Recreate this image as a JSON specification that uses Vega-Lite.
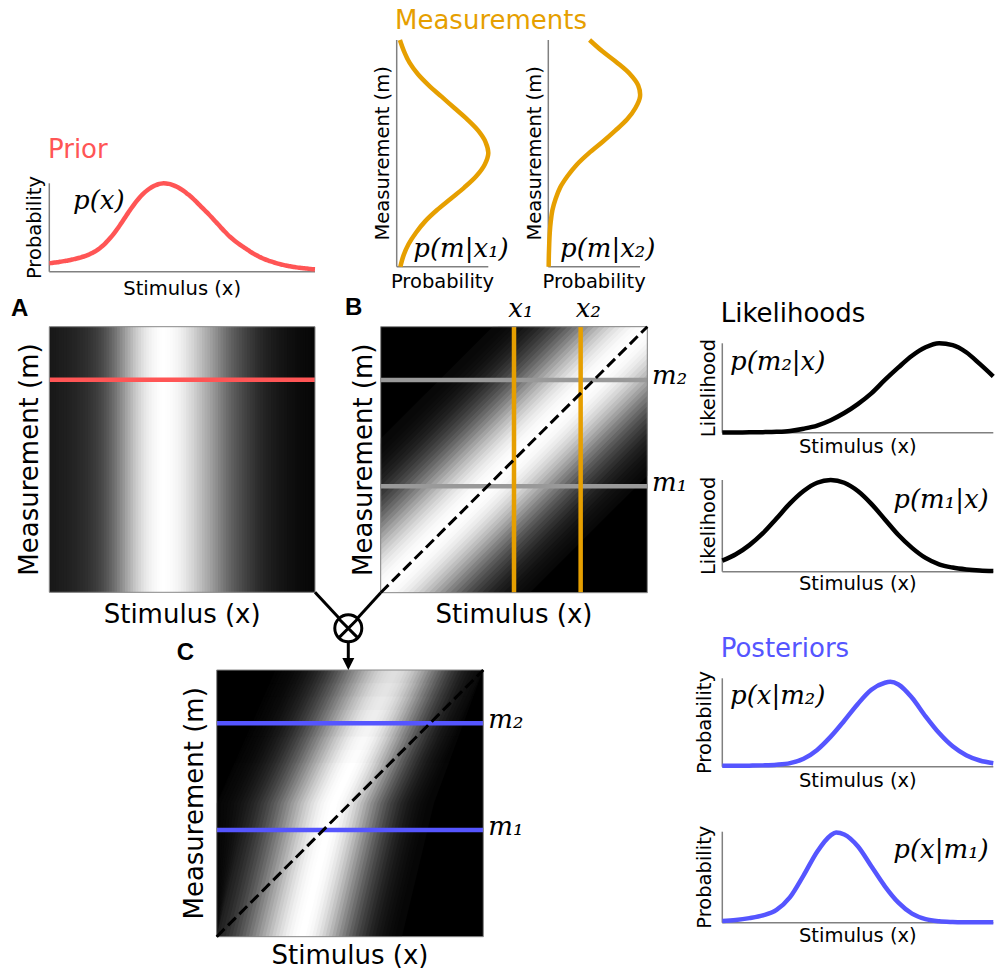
{
"$schema":"https://vega.github.io/schema/vega-lite/v6.json",
"width":996,"height":971,"autosize":{"type":"none"},"padding":0,"background":"white",
"config":{"view":{"stroke":null}},
"datasets":{
"prior":[{"x":0,"xa":0,"xb":0.015,"y":0.095},{"x":0.01,"xa":0.005,"xb":0.025,"y":0.099},{"x":0.02,"xa":0.015,"xb":0.035,"y":0.103},{"x":0.03,"xa":0.025,"xb":0.045,"y":0.107},{"x":0.04,"xa":0.035,"xb":0.055,"y":0.112},{"x":0.05,"xa":0.045,"xb":0.065,"y":0.117},{"x":0.06,"xa":0.055,"xb":0.075,"y":0.122},{"x":0.07,"xa":0.065,"xb":0.085,"y":0.127},{"x":0.08,"xa":0.075,"xb":0.095,"y":0.133},{"x":0.09,"xa":0.085,"xb":0.105,"y":0.14},{"x":0.1,"xa":0.095,"xb":0.115,"y":0.147},{"x":0.11,"xa":0.105,"xb":0.125,"y":0.155},{"x":0.12,"xa":0.115,"xb":0.135,"y":0.163},{"x":0.13,"xa":0.125,"xb":0.145,"y":0.172},{"x":0.14,"xa":0.135,"xb":0.155,"y":0.183},{"x":0.15,"xa":0.145,"xb":0.165,"y":0.195},{"x":0.16,"xa":0.155,"xb":0.175,"y":0.21},{"x":0.17,"xa":0.165,"xb":0.185,"y":0.226},{"x":0.18,"xa":0.175,"xb":0.195,"y":0.245},{"x":0.19,"xa":0.185,"xb":0.205,"y":0.266},{"x":0.2,"xa":0.195,"xb":0.215,"y":0.29},{"x":0.21,"xa":0.205,"xb":0.225,"y":0.318},{"x":0.22,"xa":0.215,"xb":0.235,"y":0.35},{"x":0.23,"xa":0.225,"xb":0.245,"y":0.384},{"x":0.24,"xa":0.235,"xb":0.255,"y":0.42},{"x":0.25,"xa":0.245,"xb":0.265,"y":0.459},{"x":0.26,"xa":0.255,"xb":0.275,"y":0.5},{"x":0.27,"xa":0.265,"xb":0.285,"y":0.545},{"x":0.28,"xa":0.275,"xb":0.295,"y":0.59},{"x":0.29,"xa":0.285,"xb":0.305,"y":0.636},{"x":0.3,"xa":0.295,"xb":0.315,"y":0.68},{"x":0.31,"xa":0.305,"xb":0.325,"y":0.724},{"x":0.32,"xa":0.315,"xb":0.335,"y":0.765},{"x":0.33,"xa":0.325,"xb":0.345,"y":0.804},{"x":0.34,"xa":0.335,"xb":0.355,"y":0.84},{"x":0.35,"xa":0.345,"xb":0.365,"y":0.872},{"x":0.36,"xa":0.355,"xb":0.375,"y":0.9},{"x":0.37,"xa":0.365,"xb":0.385,"y":0.924},{"x":0.38,"xa":0.375,"xb":0.395,"y":0.945},{"x":0.39,"xa":0.385,"xb":0.405,"y":0.963},{"x":0.4,"xa":0.395,"xb":0.415,"y":0.978},{"x":0.41,"xa":0.405,"xb":0.425,"y":0.989},{"x":0.42,"xa":0.415,"xb":0.435,"y":0.996},{"x":0.43,"xa":0.425,"xb":0.445,"y":1},{"x":0.44,"xa":0.435,"xb":0.455,"y":0.998},{"x":0.45,"xa":0.445,"xb":0.465,"y":0.993},{"x":0.46,"xa":0.455,"xb":0.475,"y":0.985},{"x":0.47,"xa":0.465,"xb":0.485,"y":0.974},{"x":0.48,"xa":0.475,"xb":0.495,"y":0.96},{"x":0.49,"xa":0.485,"xb":0.505,"y":0.944},{"x":0.5,"xa":0.495,"xb":0.515,"y":0.925},{"x":0.51,"xa":0.505,"xb":0.525,"y":0.904},{"x":0.52,"xa":0.515,"xb":0.535,"y":0.88},{"x":0.53,"xa":0.525,"xb":0.545,"y":0.856},{"x":0.54,"xa":0.535,"xb":0.555,"y":0.83},{"x":0.55,"xa":0.545,"xb":0.565,"y":0.801},{"x":0.56,"xa":0.555,"xb":0.575,"y":0.77},{"x":0.57,"xa":0.565,"xb":0.585,"y":0.74},{"x":0.58,"xa":0.575,"xb":0.595,"y":0.71},{"x":0.59,"xa":0.585,"xb":0.605,"y":0.68},{"x":0.6,"xa":0.595,"xb":0.615,"y":0.65},{"x":0.61,"xa":0.605,"xb":0.625,"y":0.618},{"x":0.62,"xa":0.615,"xb":0.635,"y":0.585},{"x":0.63,"xa":0.625,"xb":0.645,"y":0.552},{"x":0.64,"xa":0.635,"xb":0.655,"y":0.52},{"x":0.65,"xa":0.645,"xb":0.665,"y":0.487},{"x":0.66,"xa":0.655,"xb":0.675,"y":0.455},{"x":0.67,"xa":0.665,"xb":0.685,"y":0.424},{"x":0.68,"xa":0.675,"xb":0.695,"y":0.395},{"x":0.69,"xa":0.685,"xb":0.705,"y":0.369},{"x":0.7,"xa":0.695,"xb":0.715,"y":0.345},{"x":0.71,"xa":0.705,"xb":0.725,"y":0.322},{"x":0.72,"xa":0.715,"xb":0.735,"y":0.3},{"x":0.73,"xa":0.725,"xb":0.745,"y":0.28},{"x":0.74,"xa":0.735,"xb":0.755,"y":0.26},{"x":0.75,"xa":0.745,"xb":0.765,"y":0.24},{"x":0.76,"xa":0.755,"xb":0.775,"y":0.22},{"x":0.77,"xa":0.765,"xb":0.785,"y":0.202},{"x":0.78,"xa":0.775,"xb":0.795,"y":0.185},{"x":0.79,"xa":0.785,"xb":0.805,"y":0.17},{"x":0.8,"xa":0.795,"xb":0.815,"y":0.155},{"x":0.81,"xa":0.805,"xb":0.825,"y":0.142},{"x":0.82,"xa":0.815,"xb":0.835,"y":0.13},{"x":0.83,"xa":0.825,"xb":0.845,"y":0.12},{"x":0.84,"xa":0.835,"xb":0.855,"y":0.11},{"x":0.85,"xa":0.845,"xb":0.865,"y":0.101},{"x":0.86,"xa":0.855,"xb":0.875,"y":0.092},{"x":0.87,"xa":0.865,"xb":0.885,"y":0.084},{"x":0.88,"xa":0.875,"xb":0.895,"y":0.077},{"x":0.89,"xa":0.885,"xb":0.905,"y":0.07},{"x":0.9,"xa":0.895,"xb":0.915,"y":0.064},{"x":0.91,"xa":0.905,"xb":0.925,"y":0.059},{"x":0.92,"xa":0.915,"xb":0.935,"y":0.054},{"x":0.93,"xa":0.925,"xb":0.945,"y":0.049},{"x":0.94,"xa":0.935,"xb":0.955,"y":0.045},{"x":0.95,"xa":0.945,"xb":0.965,"y":0.041},{"x":0.96,"xa":0.955,"xb":0.975,"y":0.038},{"x":0.97,"xa":0.965,"xb":0.985,"y":0.035},{"x":0.98,"xa":0.975,"xb":0.995,"y":0.032},{"x":0.99,"xa":0.985,"xb":1,"y":0.029},{"x":1,"xa":0.995,"xb":1,"y":0.027}],
"m1":[{"y":0,"x":0.04},{"y":0.05,"x":0.075},{"y":0.1,"x":0.13},{"y":0.15,"x":0.21},{"y":0.2,"x":0.31},{"y":0.25,"x":0.44},{"y":0.3,"x":0.59},{"y":0.35,"x":0.74},{"y":0.4,"x":0.87},{"y":0.45,"x":0.96},{"y":0.5,"x":1},{"y":0.55,"x":0.97},{"y":0.6,"x":0.89},{"y":0.65,"x":0.77},{"y":0.7,"x":0.63},{"y":0.75,"x":0.49},{"y":0.8,"x":0.35},{"y":0.85,"x":0.23},{"y":0.9,"x":0.14},{"y":0.95,"x":0.08},{"y":1,"x":0.035}],
"m2":[{"y":0,"x":0.004},{"y":0.05,"x":0.006},{"y":0.1,"x":0.01},{"y":0.15,"x":0.016},{"y":0.2,"x":0.027},{"y":0.25,"x":0.045},{"y":0.3,"x":0.08},{"y":0.35,"x":0.13},{"y":0.4,"x":0.21},{"y":0.45,"x":0.31},{"y":0.5,"x":0.44},{"y":0.55,"x":0.59},{"y":0.6,"x":0.73},{"y":0.65,"x":0.86},{"y":0.7,"x":0.95},{"y":0.75,"x":1},{"y":0.8,"x":0.98},{"y":0.85,"x":0.89},{"y":0.9,"x":0.75},{"y":0.95,"x":0.59},{"y":1,"x":0.45}],
"l1":[{"x":0,"y":0.002},{"x":0.05,"y":0.003},{"x":0.1,"y":0.004},{"x":0.15,"y":0.006},{"x":0.2,"y":0.01},{"x":0.25,"y":0.02},{"x":0.3,"y":0.045},{"x":0.35,"y":0.08},{"x":0.4,"y":0.14},{"x":0.45,"y":0.22},{"x":0.5,"y":0.32},{"x":0.55,"y":0.44},{"x":0.6,"y":0.59},{"x":0.65,"y":0.73},{"x":0.7,"y":0.86},{"x":0.75,"y":0.955},{"x":0.8,"y":1},{"x":0.85,"y":0.98},{"x":0.9,"y":0.9},{"x":0.95,"y":0.77},{"x":1,"y":0.63}],
"l2":[{"x":0,"y":0.12},{"x":0.05,"y":0.19},{"x":0.1,"y":0.29},{"x":0.15,"y":0.42},{"x":0.2,"y":0.58},{"x":0.25,"y":0.745},{"x":0.3,"y":0.88},{"x":0.35,"y":0.97},{"x":0.4,"y":1},{"x":0.45,"y":0.97},{"x":0.5,"y":0.88},{"x":0.55,"y":0.74},{"x":0.6,"y":0.57},{"x":0.65,"y":0.4},{"x":0.7,"y":0.26},{"x":0.75,"y":0.15},{"x":0.8,"y":0.08},{"x":0.85,"y":0.045},{"x":0.9,"y":0.025},{"x":0.95,"y":0.013},{"x":1,"y":0.007}],
"p1":[{"x":0,"y":0.01},{"x":0.05,"y":0.01},{"x":0.1,"y":0.012},{"x":0.15,"y":0.015},{"x":0.2,"y":0.022},{"x":0.25,"y":0.04},{"x":0.3,"y":0.09},{"x":0.35,"y":0.19},{"x":0.4,"y":0.34},{"x":0.45,"y":0.52},{"x":0.5,"y":0.71},{"x":0.55,"y":0.87},{"x":0.6,"y":0.95},{"x":0.62,"y":0.96},{"x":0.65,"y":0.93},{"x":0.7,"y":0.78},{"x":0.75,"y":0.57},{"x":0.8,"y":0.38},{"x":0.85,"y":0.23},{"x":0.9,"y":0.13},{"x":0.95,"y":0.07},{"x":1,"y":0.04}],
"p2":[{"x":0,"y":0.02},{"x":0.05,"y":0.03},{"x":0.1,"y":0.05},{"x":0.15,"y":0.08},{"x":0.2,"y":0.14},{"x":0.25,"y":0.28},{"x":0.3,"y":0.52},{"x":0.35,"y":0.78},{"x":0.4,"y":0.96},{"x":0.42,"y":0.99},{"x":0.45,"y":0.97},{"x":0.5,"y":0.84},{"x":0.55,"y":0.62},{"x":0.6,"y":0.4},{"x":0.65,"y":0.22},{"x":0.7,"y":0.1},{"x":0.75,"y":0.04},{"x":0.8,"y":0.016},{"x":0.85,"y":0.008},{"x":0.9,"y":0.005},{"x":0.95,"y":0.004},{"x":1,"y":0.004}],
"bstrips":[
{"a":-0.56,"x":0.52,"y":0,"y2":0,"v":0.031},{"a":-0.56,"x":0.56,"y":0,"y2":0.04,"v":0.031},{"a":-0.56,"x":1,"y":0.44,"y2":0.48,"v":0.031},
{"a":-0.54,"x":0.5,"y":0,"y2":0,"v":0.04},{"a":-0.54,"x":0.54,"y":0,"y2":0.04,"v":0.04},{"a":-0.54,"x":1,"y":0.46,"y2":0.5,"v":0.04},
{"a":-0.52,"x":0.48,"y":0,"y2":0,"v":0.05},{"a":-0.52,"x":0.52,"y":0,"y2":0.04,"v":0.05},{"a":-0.52,"x":1,"y":0.48,"y2":0.52,"v":0.05},
{"a":-0.5,"x":0.46,"y":0,"y2":0,"v":0.063},{"a":-0.5,"x":0.5,"y":0,"y2":0.04,"v":0.063},{"a":-0.5,"x":1,"y":0.5,"y2":0.54,"v":0.063},
{"a":-0.48,"x":0.44,"y":0,"y2":0,"v":0.08},{"a":-0.48,"x":0.48,"y":0,"y2":0.04,"v":0.08},{"a":-0.48,"x":1,"y":0.52,"y2":0.56,"v":0.08},
{"a":-0.46,"x":0.42,"y":0,"y2":0,"v":0.1},{"a":-0.46,"x":0.46,"y":0,"y2":0.04,"v":0.1},{"a":-0.46,"x":1,"y":0.54,"y2":0.58,"v":0.1},
{"a":-0.44,"x":0.4,"y":0,"y2":0,"v":0.123},{"a":-0.44,"x":0.44,"y":0,"y2":0.04,"v":0.123},{"a":-0.44,"x":1,"y":0.56,"y2":0.6,"v":0.123},
{"a":-0.42,"x":0.38,"y":0,"y2":0,"v":0.15},{"a":-0.42,"x":0.42,"y":0,"y2":0.04,"v":0.15},{"a":-0.42,"x":1,"y":0.58,"y2":0.62,"v":0.15},
{"a":-0.4,"x":0.36,"y":0,"y2":0,"v":0.183},{"a":-0.4,"x":0.4,"y":0,"y2":0.04,"v":0.183},{"a":-0.4,"x":1,"y":0.6,"y2":0.64,"v":0.183},
{"a":-0.38,"x":0.34,"y":0,"y2":0,"v":0.22},{"a":-0.38,"x":0.38,"y":0,"y2":0.04,"v":0.22},{"a":-0.38,"x":1,"y":0.62,"y2":0.66,"v":0.22},
{"a":-0.36,"x":0.32,"y":0,"y2":0,"v":0.26},{"a":-0.36,"x":0.36,"y":0,"y2":0.04,"v":0.26},{"a":-0.36,"x":1,"y":0.64,"y2":0.68,"v":0.26},
{"a":-0.34,"x":0.3,"y":0,"y2":0,"v":0.303},{"a":-0.34,"x":0.34,"y":0,"y2":0.04,"v":0.303},{"a":-0.34,"x":1,"y":0.66,"y2":0.7,"v":0.303},
{"a":-0.32,"x":0.28,"y":0,"y2":0,"v":0.35},{"a":-0.32,"x":0.32,"y":0,"y2":0.04,"v":0.35},{"a":-0.32,"x":1,"y":0.68,"y2":0.72,"v":0.35},
{"a":-0.3,"x":0.26,"y":0,"y2":0,"v":0.403},{"a":-0.3,"x":0.3,"y":0,"y2":0.04,"v":0.403},{"a":-0.3,"x":1,"y":0.7,"y2":0.74,"v":0.403},
{"a":-0.28,"x":0.24,"y":0,"y2":0,"v":0.458},{"a":-0.28,"x":0.28,"y":0,"y2":0.04,"v":0.458},{"a":-0.28,"x":1,"y":0.72,"y2":0.76,"v":0.458},
{"a":-0.26,"x":0.22,"y":0,"y2":0,"v":0.515},{"a":-0.26,"x":0.26,"y":0,"y2":0.04,"v":0.515},{"a":-0.26,"x":1,"y":0.74,"y2":0.78,"v":0.515},
{"a":-0.24,"x":0.2,"y":0,"y2":0,"v":0.575},{"a":-0.24,"x":0.24,"y":0,"y2":0.04,"v":0.575},{"a":-0.24,"x":1,"y":0.76,"y2":0.8,"v":0.575},
{"a":-0.22,"x":0.18,"y":0,"y2":0,"v":0.635},{"a":-0.22,"x":0.22,"y":0,"y2":0.04,"v":0.635},{"a":-0.22,"x":1,"y":0.78,"y2":0.82,"v":0.635},
{"a":-0.2,"x":0.16,"y":0,"y2":0,"v":0.693},{"a":-0.2,"x":0.2,"y":0,"y2":0.04,"v":0.693},{"a":-0.2,"x":1,"y":0.8,"y2":0.84,"v":0.693},
{"a":-0.18,"x":0.14,"y":0,"y2":0,"v":0.748},{"a":-0.18,"x":0.18,"y":0,"y2":0.04,"v":0.748},{"a":-0.18,"x":1,"y":0.82,"y2":0.86,"v":0.748},
{"a":-0.16,"x":0.12,"y":0,"y2":0,"v":0.8},{"a":-0.16,"x":0.16,"y":0,"y2":0.04,"v":0.8},{"a":-0.16,"x":1,"y":0.84,"y2":0.88,"v":0.8},
{"a":-0.14,"x":0.1,"y":0,"y2":0,"v":0.848},{"a":-0.14,"x":0.14,"y":0,"y2":0.04,"v":0.848},{"a":-0.14,"x":1,"y":0.86,"y2":0.9,"v":0.848},
{"a":-0.12,"x":0.08,"y":0,"y2":0,"v":0.89},{"a":-0.12,"x":0.12,"y":0,"y2":0.04,"v":0.89},{"a":-0.12,"x":1,"y":0.88,"y2":0.92,"v":0.89},
{"a":-0.1,"x":0.06,"y":0,"y2":0,"v":0.925},{"a":-0.1,"x":0.1,"y":0,"y2":0.04,"v":0.925},{"a":-0.1,"x":1,"y":0.9,"y2":0.94,"v":0.925},
{"a":-0.08,"x":0.04,"y":0,"y2":0,"v":0.953},{"a":-0.08,"x":0.08,"y":0,"y2":0.04,"v":0.953},{"a":-0.08,"x":1,"y":0.92,"y2":0.96,"v":0.953},
{"a":-0.06,"x":0.02,"y":0,"y2":0,"v":0.975},{"a":-0.06,"x":0.06,"y":0,"y2":0.04,"v":0.975},{"a":-0.06,"x":1,"y":0.94,"y2":0.98,"v":0.975},
{"a":-0.04,"x":0,"y":0,"y2":0,"v":0.99},{"a":-0.04,"x":0.04,"y":0,"y2":0.04,"v":0.99},{"a":-0.04,"x":1,"y":0.96,"y2":1,"v":0.99},
{"a":-0.02,"x":0,"y":0,"y2":0.02,"v":0.998},{"a":-0.02,"x":0.02,"y":0,"y2":0.04,"v":0.998},{"a":-0.02,"x":0.98,"y":0.96,"y2":1,"v":0.998},{"a":-0.02,"x":1,"y":0.98,"y2":1,"v":0.998},
{"a":0,"x":0,"y":0,"y2":0.04,"v":0.998},{"a":0,"x":0.96,"y":0.96,"y2":1,"v":0.998},{"a":0,"x":1,"y":1,"y2":1,"v":0.998},
{"a":0.02,"x":0,"y":0.02,"y2":0.06,"v":0.99},{"a":0.02,"x":0.94,"y":0.96,"y2":1,"v":0.99},{"a":0.02,"x":0.98,"y":1,"y2":1,"v":0.99},
{"a":0.04,"x":0,"y":0.04,"y2":0.08,"v":0.975},{"a":0.04,"x":0.92,"y":0.96,"y2":1,"v":0.975},{"a":0.04,"x":0.96,"y":1,"y2":1,"v":0.975},
{"a":0.06,"x":0,"y":0.06,"y2":0.1,"v":0.953},{"a":0.06,"x":0.9,"y":0.96,"y2":1,"v":0.953},{"a":0.06,"x":0.94,"y":1,"y2":1,"v":0.953},
{"a":0.08,"x":0,"y":0.08,"y2":0.12,"v":0.925},{"a":0.08,"x":0.88,"y":0.96,"y2":1,"v":0.925},{"a":0.08,"x":0.92,"y":1,"y2":1,"v":0.925},
{"a":0.1,"x":0,"y":0.1,"y2":0.14,"v":0.89},{"a":0.1,"x":0.86,"y":0.96,"y2":1,"v":0.89},{"a":0.1,"x":0.9,"y":1,"y2":1,"v":0.89},
{"a":0.12,"x":0,"y":0.12,"y2":0.16,"v":0.848},{"a":0.12,"x":0.84,"y":0.96,"y2":1,"v":0.848},{"a":0.12,"x":0.88,"y":1,"y2":1,"v":0.848},
{"a":0.14,"x":0,"y":0.14,"y2":0.18,"v":0.8},{"a":0.14,"x":0.82,"y":0.96,"y2":1,"v":0.8},{"a":0.14,"x":0.86,"y":1,"y2":1,"v":0.8},
{"a":0.16,"x":0,"y":0.16,"y2":0.2,"v":0.748},{"a":0.16,"x":0.8,"y":0.96,"y2":1,"v":0.748},{"a":0.16,"x":0.84,"y":1,"y2":1,"v":0.748},
{"a":0.18,"x":0,"y":0.18,"y2":0.22,"v":0.693},{"a":0.18,"x":0.78,"y":0.96,"y2":1,"v":0.693},{"a":0.18,"x":0.82,"y":1,"y2":1,"v":0.693},
{"a":0.2,"x":0,"y":0.2,"y2":0.24,"v":0.635},{"a":0.2,"x":0.76,"y":0.96,"y2":1,"v":0.635},{"a":0.2,"x":0.8,"y":1,"y2":1,"v":0.635},
{"a":0.22,"x":0,"y":0.22,"y2":0.26,"v":0.575},{"a":0.22,"x":0.74,"y":0.96,"y2":1,"v":0.575},{"a":0.22,"x":0.78,"y":1,"y2":1,"v":0.575},
{"a":0.24,"x":0,"y":0.24,"y2":0.28,"v":0.515},{"a":0.24,"x":0.72,"y":0.96,"y2":1,"v":0.515},{"a":0.24,"x":0.76,"y":1,"y2":1,"v":0.515},
{"a":0.26,"x":0,"y":0.26,"y2":0.3,"v":0.458},{"a":0.26,"x":0.7,"y":0.96,"y2":1,"v":0.458},{"a":0.26,"x":0.74,"y":1,"y2":1,"v":0.458},
{"a":0.28,"x":0,"y":0.28,"y2":0.32,"v":0.403},{"a":0.28,"x":0.68,"y":0.96,"y2":1,"v":0.403},{"a":0.28,"x":0.72,"y":1,"y2":1,"v":0.403},
{"a":0.3,"x":0,"y":0.3,"y2":0.34,"v":0.35},{"a":0.3,"x":0.66,"y":0.96,"y2":1,"v":0.35},{"a":0.3,"x":0.7,"y":1,"y2":1,"v":0.35},
{"a":0.32,"x":0,"y":0.32,"y2":0.36,"v":0.303},{"a":0.32,"x":0.64,"y":0.96,"y2":1,"v":0.303},{"a":0.32,"x":0.68,"y":1,"y2":1,"v":0.303},
{"a":0.34,"x":0,"y":0.34,"y2":0.38,"v":0.26},{"a":0.34,"x":0.62,"y":0.96,"y2":1,"v":0.26},{"a":0.34,"x":0.66,"y":1,"y2":1,"v":0.26},
{"a":0.36,"x":0,"y":0.36,"y2":0.4,"v":0.22},{"a":0.36,"x":0.6,"y":0.96,"y2":1,"v":0.22},{"a":0.36,"x":0.64,"y":1,"y2":1,"v":0.22},
{"a":0.38,"x":0,"y":0.38,"y2":0.42,"v":0.183},{"a":0.38,"x":0.58,"y":0.96,"y2":1,"v":0.183},{"a":0.38,"x":0.62,"y":1,"y2":1,"v":0.183},
{"a":0.4,"x":0,"y":0.4,"y2":0.44,"v":0.15},{"a":0.4,"x":0.56,"y":0.96,"y2":1,"v":0.15},{"a":0.4,"x":0.6,"y":1,"y2":1,"v":0.15},
{"a":0.42,"x":0,"y":0.42,"y2":0.46,"v":0.123},{"a":0.42,"x":0.54,"y":0.96,"y2":1,"v":0.123},{"a":0.42,"x":0.58,"y":1,"y2":1,"v":0.123},
{"a":0.44,"x":0,"y":0.44,"y2":0.48,"v":0.1},{"a":0.44,"x":0.52,"y":0.96,"y2":1,"v":0.1},{"a":0.44,"x":0.56,"y":1,"y2":1,"v":0.1},
{"a":0.46,"x":0,"y":0.46,"y2":0.5,"v":0.08},{"a":0.46,"x":0.5,"y":0.96,"y2":1,"v":0.08},{"a":0.46,"x":0.54,"y":1,"y2":1,"v":0.08},
{"a":0.48,"x":0,"y":0.48,"y2":0.52,"v":0.063},{"a":0.48,"x":0.48,"y":0.96,"y2":1,"v":0.063},{"a":0.48,"x":0.52,"y":1,"y2":1,"v":0.063},
{"a":0.5,"x":0,"y":0.5,"y2":0.54,"v":0.05},{"a":0.5,"x":0.46,"y":0.96,"y2":1,"v":0.05},{"a":0.5,"x":0.5,"y":1,"y2":1,"v":0.05},
{"a":0.52,"x":0,"y":0.52,"y2":0.56,"v":0.04},{"a":0.52,"x":0.44,"y":0.96,"y2":1,"v":0.04},{"a":0.52,"x":0.48,"y":1,"y2":1,"v":0.04},
{"a":0.54,"x":0,"y":0.54,"y2":0.58,"v":0.031},{"a":0.54,"x":0.42,"y":0.96,"y2":1,"v":0.031},{"a":0.54,"x":0.46,"y":1,"y2":1,"v":0.031}],
"cstrips":[
{"a":-0.45,"y":0,"x":0,"x2":0,"v":0.017},{"a":-0.45,"y":0.5,"x":0,"x2":0.015,"v":0.017},{"a":-0.45,"y":1,"x":0.22,"x2":0.245,"v":0.017},
{"a":-0.4375,"y":0,"x":0,"x2":0,"v":0.021},{"a":-0.4375,"y":0.5,"x":0.0025,"x2":0.0275,"v":0.021},{"a":-0.4375,"y":1,"x":0.2325,"x2":0.2575,"v":0.021},
{"a":-0.425,"y":0,"x":0,"x2":0,"v":0.026},{"a":-0.425,"y":0.5,"x":0.015,"x2":0.04,"v":0.026},{"a":-0.425,"y":1,"x":0.245,"x2":0.27,"v":0.026},
{"a":-0.4125,"y":0,"x":0,"x2":0,"v":0.032},{"a":-0.4125,"y":0.5,"x":0.0275,"x2":0.0525,"v":0.032},{"a":-0.4125,"y":1,"x":0.2575,"x2":0.2825,"v":0.032},
{"a":-0.4,"y":0,"x":0,"x2":0,"v":0.04},{"a":-0.4,"y":0.5,"x":0.04,"x2":0.065,"v":0.04},{"a":-0.4,"y":1,"x":0.27,"x2":0.295,"v":0.04},
{"a":-0.3875,"y":0,"x":0,"x2":0,"v":0.049},{"a":-0.3875,"y":0.5,"x":0.0525,"x2":0.0775,"v":0.049},{"a":-0.3875,"y":1,"x":0.2825,"x2":0.3075,"v":0.049},
{"a":-0.375,"y":0,"x":0,"x2":0,"v":0.059},{"a":-0.375,"y":0.5,"x":0.065,"x2":0.09,"v":0.059},{"a":-0.375,"y":1,"x":0.295,"x2":0.32,"v":0.059},
{"a":-0.3625,"y":0,"x":0,"x2":0,"v":0.071},{"a":-0.3625,"y":0.5,"x":0.0775,"x2":0.1025,"v":0.071},{"a":-0.3625,"y":1,"x":0.3075,"x2":0.3325,"v":0.071},
{"a":-0.35,"y":0,"x":0,"x2":0,"v":0.086},{"a":-0.35,"y":0.5,"x":0.09,"x2":0.115,"v":0.086},{"a":-0.35,"y":1,"x":0.32,"x2":0.345,"v":0.086},
{"a":-0.3375,"y":0,"x":0,"x2":0.0075,"v":0.102},{"a":-0.3375,"y":0.5,"x":0.1025,"x2":0.1275,"v":0.102},{"a":-0.3375,"y":1,"x":0.3325,"x2":0.3575,"v":0.102},
{"a":-0.325,"y":0,"x":0,"x2":0.02,"v":0.121},{"a":-0.325,"y":0.5,"x":0.115,"x2":0.14,"v":0.121},{"a":-0.325,"y":1,"x":0.345,"x2":0.37,"v":0.121},
{"a":-0.3125,"y":0,"x":0.0075,"x2":0.0325,"v":0.142},{"a":-0.3125,"y":0.5,"x":0.1275,"x2":0.1525,"v":0.142},{"a":-0.3125,"y":1,"x":0.3575,"x2":0.3825,"v":0.142},
{"a":-0.3,"y":0,"x":0.02,"x2":0.045,"v":0.166},{"a":-0.3,"y":0.5,"x":0.14,"x2":0.165,"v":0.166},{"a":-0.3,"y":1,"x":0.37,"x2":0.395,"v":0.166},
{"a":-0.2875,"y":0,"x":0.0325,"x2":0.0575,"v":0.193},{"a":-0.2875,"y":0.5,"x":0.1525,"x2":0.1775,"v":0.193},{"a":-0.2875,"y":1,"x":0.3825,"x2":0.4075,"v":0.193},
{"a":-0.275,"y":0,"x":0.045,"x2":0.07,"v":0.222},{"a":-0.275,"y":0.5,"x":0.165,"x2":0.19,"v":0.222},{"a":-0.275,"y":1,"x":0.395,"x2":0.42,"v":0.222},
{"a":-0.2625,"y":0,"x":0.0575,"x2":0.0825,"v":0.255},{"a":-0.2625,"y":0.5,"x":0.1775,"x2":0.2025,"v":0.255},{"a":-0.2625,"y":1,"x":0.4075,"x2":0.4325,"v":0.255},
{"a":-0.25,"y":0,"x":0.07,"x2":0.095,"v":0.29},{"a":-0.25,"y":0.5,"x":0.19,"x2":0.215,"v":0.29},{"a":-0.25,"y":1,"x":0.42,"x2":0.445,"v":0.29},
{"a":-0.2375,"y":0,"x":0.0825,"x2":0.1075,"v":0.329},{"a":-0.2375,"y":0.5,"x":0.2025,"x2":0.2275,"v":0.329},{"a":-0.2375,"y":1,"x":0.4325,"x2":0.4575,"v":0.329},
{"a":-0.225,"y":0,"x":0.095,"x2":0.12,"v":0.369},{"a":-0.225,"y":0.5,"x":0.215,"x2":0.24,"v":0.369},{"a":-0.225,"y":1,"x":0.445,"x2":0.47,"v":0.369},
{"a":-0.2125,"y":0,"x":0.1075,"x2":0.1325,"v":0.413},{"a":-0.2125,"y":0.5,"x":0.2275,"x2":0.2525,"v":0.413},{"a":-0.2125,"y":1,"x":0.4575,"x2":0.4825,"v":0.413},
{"a":-0.2,"y":0,"x":0.12,"x2":0.145,"v":0.458},{"a":-0.2,"y":0.5,"x":0.24,"x2":0.265,"v":0.458},{"a":-0.2,"y":1,"x":0.47,"x2":0.495,"v":0.458},
{"a":-0.1875,"y":0,"x":0.1325,"x2":0.1575,"v":0.505},{"a":-0.1875,"y":0.5,"x":0.2525,"x2":0.2775,"v":0.505},{"a":-0.1875,"y":1,"x":0.4825,"x2":0.5075,"v":0.505},
{"a":-0.175,"y":0,"x":0.145,"x2":0.17,"v":0.553},{"a":-0.175,"y":0.5,"x":0.265,"x2":0.29,"v":0.553},{"a":-0.175,"y":1,"x":0.495,"x2":0.52,"v":0.553},
{"a":-0.1625,"y":0,"x":0.1575,"x2":0.1825,"v":0.602},{"a":-0.1625,"y":0.5,"x":0.2775,"x2":0.3025,"v":0.602},{"a":-0.1625,"y":1,"x":0.5075,"x2":0.5325,"v":0.602},
{"a":-0.15,"y":0,"x":0.17,"x2":0.195,"v":0.651},{"a":-0.15,"y":0.5,"x":0.29,"x2":0.315,"v":0.651},{"a":-0.15,"y":1,"x":0.52,"x2":0.545,"v":0.651},
{"a":-0.1375,"y":0,"x":0.1825,"x2":0.2075,"v":0.699},{"a":-0.1375,"y":0.5,"x":0.3025,"x2":0.3275,"v":0.699},{"a":-0.1375,"y":1,"x":0.5325,"x2":0.5575,"v":0.699},
{"a":-0.125,"y":0,"x":0.195,"x2":0.22,"v":0.746},{"a":-0.125,"y":0.5,"x":0.315,"x2":0.34,"v":0.746},{"a":-0.125,"y":1,"x":0.545,"x2":0.57,"v":0.746},
{"a":-0.1125,"y":0,"x":0.2075,"x2":0.2325,"v":0.791},{"a":-0.1125,"y":0.5,"x":0.3275,"x2":0.3525,"v":0.791},{"a":-0.1125,"y":1,"x":0.5575,"x2":0.5825,"v":0.791},
{"a":-0.1,"y":0,"x":0.22,"x2":0.245,"v":0.833},{"a":-0.1,"y":0.5,"x":0.34,"x2":0.365,"v":0.833},{"a":-0.1,"y":1,"x":0.57,"x2":0.595,"v":0.833},
{"a":-0.0875,"y":0,"x":0.2325,"x2":0.2575,"v":0.872},{"a":-0.0875,"y":0.5,"x":0.3525,"x2":0.3775,"v":0.872},{"a":-0.0875,"y":1,"x":0.5825,"x2":0.6075,"v":0.872},
{"a":-0.075,"y":0,"x":0.245,"x2":0.27,"v":0.906},{"a":-0.075,"y":0.5,"x":0.365,"x2":0.39,"v":0.906},{"a":-0.075,"y":1,"x":0.595,"x2":0.62,"v":0.906},
{"a":-0.0625,"y":0,"x":0.2575,"x2":0.2825,"v":0.936},{"a":-0.0625,"y":0.5,"x":0.3775,"x2":0.4025,"v":0.936},{"a":-0.0625,"y":1,"x":0.6075,"x2":0.6325,"v":0.936},
{"a":-0.05,"y":0,"x":0.27,"x2":0.295,"v":0.961},{"a":-0.05,"y":0.5,"x":0.39,"x2":0.415,"v":0.961},{"a":-0.05,"y":1,"x":0.62,"x2":0.645,"v":0.961},
{"a":-0.0375,"y":0,"x":0.2825,"x2":0.3075,"v":0.98},{"a":-0.0375,"y":0.5,"x":0.4025,"x2":0.4275,"v":0.98},{"a":-0.0375,"y":1,"x":0.6325,"x2":0.6575,"v":0.98},
{"a":-0.025,"y":0,"x":0.295,"x2":0.32,"v":0.993},{"a":-0.025,"y":0.5,"x":0.415,"x2":0.44,"v":0.993},{"a":-0.025,"y":1,"x":0.645,"x2":0.67,"v":0.993},
{"a":-0.0125,"y":0,"x":0.3075,"x2":0.3325,"v":0.999},{"a":-0.0125,"y":0.5,"x":0.4275,"x2":0.4525,"v":0.999},{"a":-0.0125,"y":1,"x":0.6575,"x2":0.6825,"v":0.999},
{"a":0,"y":0,"x":0.32,"x2":0.345,"v":0.999},{"a":0,"y":0.5,"x":0.44,"x2":0.465,"v":0.999},{"a":0,"y":1,"x":0.67,"x2":0.695,"v":0.999},
{"a":0.0125,"y":0,"x":0.3325,"x2":0.3575,"v":0.99},{"a":0.0125,"y":0.5,"x":0.4525,"x2":0.4775,"v":0.99},{"a":0.0125,"y":1,"x":0.6825,"x2":0.7075,"v":0.99},
{"a":0.025,"y":0,"x":0.345,"x2":0.37,"v":0.972},{"a":0.025,"y":0.5,"x":0.465,"x2":0.49,"v":0.972},{"a":0.025,"y":1,"x":0.695,"x2":0.72,"v":0.972},
{"a":0.0375,"y":0,"x":0.3575,"x2":0.3825,"v":0.945},{"a":0.0375,"y":0.5,"x":0.4775,"x2":0.5025,"v":0.945},{"a":0.0375,"y":1,"x":0.7075,"x2":0.7325,"v":0.945},
{"a":0.05,"y":0,"x":0.37,"x2":0.395,"v":0.911},{"a":0.05,"y":0.5,"x":0.49,"x2":0.515,"v":0.911},{"a":0.05,"y":1,"x":0.72,"x2":0.745,"v":0.911},
{"a":0.0625,"y":0,"x":0.3825,"x2":0.4075,"v":0.87},{"a":0.0625,"y":0.5,"x":0.5025,"x2":0.5275,"v":0.87},{"a":0.0625,"y":1,"x":0.7325,"x2":0.7575,"v":0.87},
{"a":0.075,"y":0,"x":0.395,"x2":0.42,"v":0.823},{"a":0.075,"y":0.5,"x":0.515,"x2":0.54,"v":0.823},{"a":0.075,"y":1,"x":0.745,"x2":0.77,"v":0.823},
{"a":0.0875,"y":0,"x":0.4075,"x2":0.4325,"v":0.771},{"a":0.0875,"y":0.5,"x":0.5275,"x2":0.5525,"v":0.771},{"a":0.0875,"y":1,"x":0.7575,"x2":0.7825,"v":0.771},
{"a":0.1,"y":0,"x":0.42,"x2":0.445,"v":0.716},{"a":0.1,"y":0.5,"x":0.54,"x2":0.565,"v":0.716},{"a":0.1,"y":1,"x":0.77,"x2":0.795,"v":0.716},
{"a":0.1125,"y":0,"x":0.4325,"x2":0.4575,"v":0.659},{"a":0.1125,"y":0.5,"x":0.5525,"x2":0.5775,"v":0.659},{"a":0.1125,"y":1,"x":0.7825,"x2":0.8075,"v":0.659},
{"a":0.125,"y":0,"x":0.445,"x2":0.47,"v":0.601},{"a":0.125,"y":0.5,"x":0.565,"x2":0.59,"v":0.601},{"a":0.125,"y":1,"x":0.795,"x2":0.82,"v":0.601},
{"a":0.1375,"y":0,"x":0.4575,"x2":0.4825,"v":0.543},{"a":0.1375,"y":0.5,"x":0.5775,"x2":0.6025,"v":0.543},{"a":0.1375,"y":1,"x":0.8075,"x2":0.8325,"v":0.543},
{"a":0.15,"y":0,"x":0.47,"x2":0.495,"v":0.486},{"a":0.15,"y":0.5,"x":0.59,"x2":0.615,"v":0.486},{"a":0.15,"y":1,"x":0.82,"x2":0.845,"v":0.486},
{"a":0.1625,"y":0,"x":0.4825,"x2":0.5075,"v":0.431},{"a":0.1625,"y":0.5,"x":0.6025,"x2":0.6275,"v":0.431},{"a":0.1625,"y":1,"x":0.8325,"x2":0.8575,"v":0.431},
{"a":0.175,"y":0,"x":0.495,"x2":0.52,"v":0.378},{"a":0.175,"y":0.5,"x":0.615,"x2":0.64,"v":0.378},{"a":0.175,"y":1,"x":0.845,"x2":0.87,"v":0.378},
{"a":0.1875,"y":0,"x":0.5075,"x2":0.5325,"v":0.329},{"a":0.1875,"y":0.5,"x":0.6275,"x2":0.6525,"v":0.329},{"a":0.1875,"y":1,"x":0.8575,"x2":0.8825,"v":0.329},
{"a":0.2,"y":0,"x":0.52,"x2":0.545,"v":0.284},{"a":0.2,"y":0.5,"x":0.64,"x2":0.665,"v":0.284},{"a":0.2,"y":1,"x":0.87,"x2":0.895,"v":0.284},
{"a":0.2125,"y":0,"x":0.5325,"x2":0.5575,"v":0.243},{"a":0.2125,"y":0.5,"x":0.6525,"x2":0.6775,"v":0.243},{"a":0.2125,"y":1,"x":0.8825,"x2":0.9075,"v":0.243},
{"a":0.225,"y":0,"x":0.545,"x2":0.57,"v":0.206},{"a":0.225,"y":0.5,"x":0.665,"x2":0.69,"v":0.206},{"a":0.225,"y":1,"x":0.895,"x2":0.92,"v":0.206},
{"a":0.2375,"y":0,"x":0.5575,"x2":0.5825,"v":0.172},{"a":0.2375,"y":0.5,"x":0.6775,"x2":0.7025,"v":0.172},{"a":0.2375,"y":1,"x":0.9075,"x2":0.9325,"v":0.172},
{"a":0.25,"y":0,"x":0.57,"x2":0.595,"v":0.143},{"a":0.25,"y":0.5,"x":0.69,"x2":0.715,"v":0.143},{"a":0.25,"y":1,"x":0.92,"x2":0.945,"v":0.143},
{"a":0.2625,"y":0,"x":0.5825,"x2":0.6075,"v":0.118},{"a":0.2625,"y":0.5,"x":0.7025,"x2":0.7275,"v":0.118},{"a":0.2625,"y":1,"x":0.9325,"x2":0.9575,"v":0.118},
{"a":0.275,"y":0,"x":0.595,"x2":0.62,"v":0.096},{"a":0.275,"y":0.5,"x":0.715,"x2":0.74,"v":0.096},{"a":0.275,"y":1,"x":0.945,"x2":0.97,"v":0.096},
{"a":0.2875,"y":0,"x":0.6075,"x2":0.6325,"v":0.078},{"a":0.2875,"y":0.5,"x":0.7275,"x2":0.7525,"v":0.078},{"a":0.2875,"y":1,"x":0.9575,"x2":0.9825,"v":0.078},
{"a":0.3,"y":0,"x":0.62,"x2":0.645,"v":0.062},{"a":0.3,"y":0.5,"x":0.74,"x2":0.765,"v":0.062},{"a":0.3,"y":1,"x":0.97,"x2":0.995,"v":0.062},
{"a":0.3125,"y":0,"x":0.6325,"x2":0.6575,"v":0.05},{"a":0.3125,"y":0.5,"x":0.7525,"x2":0.7775,"v":0.05},{"a":0.3125,"y":1,"x":0.9825,"x2":1,"v":0.05},
{"a":0.325,"y":0,"x":0.645,"x2":0.67,"v":0.039},{"a":0.325,"y":0.5,"x":0.765,"x2":0.79,"v":0.039},{"a":0.325,"y":1,"x":0.995,"x2":1,"v":0.039},
{"a":0.3375,"y":0,"x":0.6575,"x2":0.6825,"v":0.03},{"a":0.3375,"y":0.5,"x":0.7775,"x2":0.8025,"v":0.03},{"a":0.3375,"y":1,"x":1,"x2":1,"v":0.03},
{"a":0.35,"y":0,"x":0.67,"x2":0.695,"v":0.023},{"a":0.35,"y":0.5,"x":0.79,"x2":0.815,"v":0.023},{"a":0.35,"y":1,"x":1,"x2":1,"v":0.023}],
"spines":[{"x":0,"y":0,"x2":0,"y2":1},{"x":0,"y":0,"x2":1,"y2":0}],
"box":[{"x":0,"x2":1,"y":0,"y2":1}],
"diag":[{"x":0,"y":0,"x2":1,"y2":1}]
},
"resolve":{"scale":{"x":"independent","y":"independent"}},
"layer":[
{"encoding":{"x":{"field":"x","type":"quantitative","scale":{"domain":[0,1],"range":[49.3,315],"nice":false},"axis":null},"y":{"field":"y","type":"quantitative","scale":{"domain":[0,1],"range":[592.3,326.7],"nice":false},"axis":null}},
"layer":[
{"data":{"name":"prior"},"mark":{"type":"rect","opacity":1},"encoding":{"x":{"field":"xa","type":"quantitative","scale":{"domain":[0,1],"range":[49.3,315],"nice":false},"axis":null},"x2":{"field":"xb"},"y":{"datum":0,"type":"quantitative","scale":{"domain":[0,1],"range":[592.3,326.7],"nice":false},"axis":null},"y2":{"datum":1},"color":{"field":"y","type":"quantitative","scale":{"domain":[0,1],"range":["#000000","#ffffff"],"interpolate":"rgb"},"legend":null}}},
{"data":{"values":[{"x":0,"x2":1,"y":0.8}]},"mark":{"type":"rule","color":"#ff5555","strokeWidth":4.5},"encoding":{"x2":{"field":"x2"}}},
{"data":{"name":"box"},"mark":{"type":"rect","fillOpacity":0,"stroke":"#888888","strokeWidth":1},"encoding":{"x2":{"field":"x2"},"y2":{"field":"y2"}}},
{"data":{"values":[{"x":1,"y":0,"x2":1.0892,"y2":-0.0956}]},"mark":{"type":"rule","color":"black","strokeWidth":3},"encoding":{"x2":{"field":"x2"},"y2":{"field":"y2"}}},
{"data":{"values":[{"x":-0.1441,"y":1.0414,"t":"A"}]},"mark":{"type":"text","font":"Liberation Sans","fontWeight":"bold","fontSize":24,"align":"left","baseline":"alphabetic","color":"black"},"encoding":{"text":{"field":"t"}}},
{"data":{"values":[{"x":-0.0414,"y":0.5,"t":"Measurement (m)"}]},"mark":{"type":"text","font":"DejaVu Sans","fontSize":26,"angle":270,"align":"center","baseline":"alphabetic","color":"black"},"encoding":{"text":{"field":"t"}}},
{"data":{"values":[{"x":0.5,"y":-0.1156,"t":"Stimulus (x)"}]},"mark":{"type":"text","font":"DejaVu Sans","fontSize":26,"align":"center","baseline":"alphabetic","color":"black"},"encoding":{"text":{"field":"t"}}}
]},
{"encoding":{"x":{"field":"x","type":"quantitative","scale":{"domain":[0,1],"range":[380.7,647.3],"nice":false},"axis":null},"y":{"field":"y","type":"quantitative","scale":{"domain":[0,1],"range":[592.7,326.7],"nice":false},"axis":null}},
"layer":[
{"data":{"name":"box"},"mark":{"type":"rect","color":"black","opacity":1},"encoding":{"x2":{"field":"x2"},"y2":{"field":"y2"}}},
{"data":{"name":"bstrips"},"mark":{"type":"area","orient":"vertical","opacity":1},"encoding":{"y2":{"field":"y2"},"detail":{"field":"a","type":"nominal"},"color":{"field":"v","type":"quantitative","scale":{"domain":[0,1],"range":["#000000","#ffffff"],"interpolate":"rgb"},"legend":null}}},
{"data":{"values":[{"x":0,"x2":1,"y":0.8},{"x":0,"x2":1,"y":0.4}]},"mark":{"type":"rule","color":"#999999","strokeWidth":4.5},"encoding":{"x2":{"field":"x2"}}},
{"data":{"values":[{"x":0.5,"y":0,"y2":1},{"x":0.75,"y":0,"y2":1}]},"mark":{"type":"rule","color":"#e69f00","strokeWidth":4.5},"encoding":{"y2":{"field":"y2"}}},
{"data":{"name":"box"},"mark":{"type":"rect","fillOpacity":0,"stroke":"#888888","strokeWidth":1},"encoding":{"x2":{"field":"x2"},"y2":{"field":"y2"}}},
{"data":{"name":"diag"},"mark":{"type":"rule","color":"black","strokeWidth":3,"strokeDash":[11,5]},"encoding":{"x2":{"field":"x2"},"y2":{"field":"y2"}}},
{"data":{"values":[{"x":0,"y":0,"x2":-0.0855,"y2":-0.094}]},"mark":{"type":"rule","color":"black","strokeWidth":3},"encoding":{"x2":{"field":"x2"},"y2":{"field":"y2"}}},
{"data":{"values":[{"x":-0.1339,"y":1.044,"t":"B"}]},"mark":{"type":"text","font":"Liberation Sans","fontWeight":"bold","fontSize":24,"align":"left","baseline":"alphabetic","color":"black"},"encoding":{"text":{"field":"t"}}},
{"data":{"values":[{"x":-0.0341,"y":0.5,"t":"Measurement (m)"}]},"mark":{"type":"text","font":"DejaVu Sans","fontSize":26,"angle":270,"align":"center","baseline":"alphabetic","color":"black"},"encoding":{"text":{"field":"t"}}},
{"data":{"values":[{"x":0.5,"y":-0.1139,"t":"Stimulus (x)"}]},"mark":{"type":"text","font":"DejaVu Sans","fontSize":26,"align":"center","baseline":"alphabetic","color":"black"},"encoding":{"text":{"field":"t"}}},
{"data":{"values":[{"x":0.5255,"y":1.0364,"t":"x₁"},{"x":0.7787,"y":1.0364,"t":"x₂"}]},"mark":{"type":"text","font":"DejaVu Serif","fontStyle":"italic","fontSize":26,"align":"center","baseline":"alphabetic","color":"black"},"encoding":{"text":{"field":"t"}}},
{"data":{"values":[{"x":1.0176,"y":0.7846,"t":"m₂"},{"x":1.0176,"y":0.3835,"t":"m₁"}]},"mark":{"type":"text","font":"DejaVu Serif","fontStyle":"italic","fontSize":26,"align":"left","baseline":"alphabetic","color":"black"},"encoding":{"text":{"field":"t"}}}
]},
{"encoding":{"x":{"field":"x","type":"quantitative","scale":{"domain":[0,1],"range":[216.7,483.3],"nice":false},"axis":null},"y":{"field":"y","type":"quantitative","scale":{"domain":[0,1],"range":[936.7,670],"nice":false},"axis":null}},
"layer":[
{"data":{"name":"box"},"mark":{"type":"rect","color":"black","opacity":1},"encoding":{"x2":{"field":"x2"},"y2":{"field":"y2"}}},
{"data":{"name":"cstrips"},"mark":{"type":"area","orient":"horizontal","opacity":1},"encoding":{"x2":{"field":"x2"},"detail":{"field":"a","type":"nominal"},"color":{"field":"v","type":"quantitative","scale":{"domain":[0,1],"range":["#000000","#ffffff"],"interpolate":"rgb"},"legend":null}}},
{"data":{"values":[{"x":0,"x2":1,"y":0.65,"y2":0.7,"pk":0.99},{"x":0,"x2":1,"y":0.7,"y2":0.75,"pk":0.975},{"x":0,"x2":1,"y":0.75,"y2":0.8,"pk":0.955},{"x":0,"x2":1,"y":0.8,"y2":0.85,"pk":0.935},{"x":0,"x2":1,"y":0.85,"y2":0.9,"pk":0.915},{"x":0,"x2":1,"y":0.9,"y2":0.95,"pk":0.895},{"x":0,"x2":1,"y":0.95,"y2":1,"pk":0.875}]},"mark":{"type":"rect","color":"black"},"encoding":{"x2":{"field":"x2"},"y2":{"field":"y2"},"opacity":{"field":"pk","type":"quantitative","scale":{"domain":[0,1],"range":[1,0]},"legend":null}}},
{"data":{"values":[{"x":0,"x2":1,"y":0.8},{"x":0,"x2":1,"y":0.4}]},"mark":{"type":"rule","color":"#5555ff","strokeWidth":4.5},"encoding":{"x2":{"field":"x2"}}},
{"data":{"name":"box"},"mark":{"type":"rect","fillOpacity":0,"stroke":"#888888","strokeWidth":1},"encoding":{"x2":{"field":"x2"},"y2":{"field":"y2"}}},
{"data":{"name":"diag"},"mark":{"type":"rule","color":"black","strokeWidth":3,"strokeDash":[11,5]},"encoding":{"x2":{"field":"x2"},"y2":{"field":"y2"}}},
{"data":{"values":[{"x":0.4936,"y":1.1564}]},"mark":{"type":"point","shape":"circle","size":729,"filled":false,"color":"black","strokeWidth":3,"opacity":1}},
{"data":{"values":[{"x":0.4936,"y":1.1564}]},"mark":{"type":"point","shape":"M-0.7071,-0.7071L0.7071,0.7071M-0.7071,0.7071L0.7071,-0.7071","size":729,"filled":false,"color":"black","strokeWidth":3,"opacity":1}},
{"data":{"values":[{"x":0.4936,"y":1.1031,"y2":1.03}]},"mark":{"type":"rule","color":"black","strokeWidth":3},"encoding":{"y2":{"field":"y2"}}},
{"data":{"values":[{"x":0.4936,"y":1.0225}]},"mark":{"type":"point","shape":"M-1,-1L1,-1L0,1Z","size":144,"filled":true,"color":"black","opacity":1}},
{"data":{"values":[{"x":-0.15,"y":1.0375,"t":"C"}]},"mark":{"type":"text","font":"Liberation Sans","fontWeight":"bold","fontSize":24,"align":"left","baseline":"alphabetic","color":"black"},"encoding":{"text":{"field":"t"}}},
{"data":{"values":[{"x":-0.0503,"y":0.5,"t":"Measurement (m)"}]},"mark":{"type":"text","font":"DejaVu Sans","fontSize":26,"angle":270,"align":"center","baseline":"alphabetic","color":"black"},"encoding":{"text":{"field":"t"}}},
{"data":{"values":[{"x":0.5,"y":-0.1042,"t":"Stimulus (x)"}]},"mark":{"type":"text","font":"DejaVu Sans","fontSize":26,"align":"center","baseline":"alphabetic","color":"black"},"encoding":{"text":{"field":"t"}}},
{"data":{"values":[{"x":1.0188,"y":0.7825,"t":"m₂"},{"x":1.0188,"y":0.3813,"t":"m₁"}]},"mark":{"type":"text","font":"DejaVu Serif","fontStyle":"italic","fontSize":26,"align":"left","baseline":"alphabetic","color":"black"},"encoding":{"text":{"field":"t"}}}
]},
{"encoding":{"x":{"field":"x","type":"quantitative","scale":{"domain":[0,1],"range":[49.3,315],"nice":false},"axis":null},"y":{"field":"y","type":"quantitative","scale":{"domain":[0,1],"range":[271.7,183.3],"nice":false},"axis":null}},
"layer":[
{"data":{"name":"spines"},"mark":{"type":"rule","color":"#808080","strokeWidth":1.5},"encoding":{"x2":{"field":"x2"},"y2":{"field":"y2"}}},
{"data":{"name":"prior"},"mark":{"type":"line","color":"#ff5555","strokeWidth":4.5,"interpolate":"monotone"}},
{"data":{"values":[{"x":-0.005,"y":1.2828,"t":"Prior"}]},"mark":{"type":"text","font":"DejaVu Sans","fontSize":26,"align":"left","baseline":"alphabetic","color":"#ff5555"},"encoding":{"text":{"field":"t"}}},
{"data":{"values":[{"x":0.0892,"y":0.7059,"t":"p(x)"}]},"mark":{"type":"text","font":"DejaVu Serif","fontStyle":"italic","fontSize":26,"align":"left","baseline":"alphabetic","color":"black"},"encoding":{"text":{"field":"t"}}},
{"data":{"values":[{"x":-0.0331,"y":0.5,"t":"Probability"}]},"mark":{"type":"text","font":"DejaVu Sans","fontSize":19.5,"angle":270,"align":"center","baseline":"alphabetic","color":"black"},"encoding":{"text":{"field":"t"}}},
{"data":{"values":[{"x":0.5,"y":-0.2692,"t":"Stimulus (x)"}]},"mark":{"type":"text","font":"DejaVu Sans","fontSize":19.5,"align":"center","baseline":"alphabetic","color":"black"},"encoding":{"text":{"field":"t"}}}
]},
{"encoding":{"x":{"field":"x","type":"quantitative","scale":{"domain":[0,1],"range":[396.7,488.3],"nice":false},"axis":null},"y":{"field":"y","type":"quantitative","scale":{"domain":[0,1],"range":[266.7,40],"nice":false},"axis":null}},
"layer":[
{"data":{"name":"spines"},"mark":{"type":"rule","color":"#808080","strokeWidth":1.5},"encoding":{"x2":{"field":"x2"},"y2":{"field":"y2"}}},
{"data":{"name":"m1"},"mark":{"type":"line","color":"#e69f00","strokeWidth":4.5,"interpolate":"catmull-rom"},"encoding":{"order":{"field":"y","type":"quantitative"}}},
{"data":{"values":[{"x":-0.0186,"y":1.0472,"t":"Measurements"}]},"mark":{"type":"text","font":"DejaVu Sans","fontSize":26,"align":"left","baseline":"alphabetic","color":"#e69f00"},"encoding":{"text":{"field":"t"}}},
{"data":{"values":[{"x":0.1812,"y":0.0446,"t":"p(m|x₁)"}]},"mark":{"type":"text","font":"DejaVu Serif","fontStyle":"italic","fontSize":26,"align":"left","baseline":"alphabetic","color":"black"},"encoding":{"text":{"field":"t"}}},
{"data":{"values":[{"x":-0.083,"y":0.5,"t":"Measurement (m)"}]},"mark":{"type":"text","font":"DejaVu Sans","fontSize":19.5,"angle":270,"align":"center","baseline":"alphabetic","color":"black"},"encoding":{"text":{"field":"t"}}},
{"data":{"values":[{"x":0.5,"y":-0.094,"t":"Probability"}]},"mark":{"type":"text","font":"DejaVu Sans","fontSize":19.5,"align":"center","baseline":"alphabetic","color":"black"},"encoding":{"text":{"field":"t"}}}
]},
{"encoding":{"x":{"field":"x","type":"quantitative","scale":{"domain":[0,1],"range":[548.3,640],"nice":false},"axis":null},"y":{"field":"y","type":"quantitative","scale":{"domain":[0,1],"range":[266.7,40],"nice":false},"axis":null}},
"layer":[
{"data":{"name":"spines"},"mark":{"type":"rule","color":"#808080","strokeWidth":1.5},"encoding":{"x2":{"field":"x2"},"y2":{"field":"y2"}}},
{"data":{"name":"m2"},"mark":{"type":"line","color":"#e69f00","strokeWidth":4.5,"interpolate":"catmull-rom"},"encoding":{"order":{"field":"y","type":"quantitative"}}},
{"data":{"values":[{"x":0.1276,"y":0.0446,"t":"p(m|x₂)"}]},"mark":{"type":"text","font":"DejaVu Serif","fontStyle":"italic","fontSize":26,"align":"left","baseline":"alphabetic","color":"black"},"encoding":{"text":{"field":"t"}}},
{"data":{"values":[{"x":-0.0829,"y":0.5,"t":"Measurement (m)"}]},"mark":{"type":"text","font":"DejaVu Sans","fontSize":19.5,"angle":270,"align":"center","baseline":"alphabetic","color":"black"},"encoding":{"text":{"field":"t"}}},
{"data":{"values":[{"x":0.5,"y":-0.094,"t":"Probability"}]},"mark":{"type":"text","font":"DejaVu Sans","fontSize":19.5,"align":"center","baseline":"alphabetic","color":"black"},"encoding":{"text":{"field":"t"}}}
]},
{"encoding":{"x":{"field":"x","type":"quantitative","scale":{"domain":[0,1],"range":[722.3,993.3],"nice":false},"axis":null},"y":{"field":"y","type":"quantitative","scale":{"domain":[0,1],"range":[432.7,343.3],"nice":false},"axis":null}},
"layer":[
{"data":{"name":"spines"},"mark":{"type":"rule","color":"#808080","strokeWidth":1.5},"encoding":{"x2":{"field":"x2"},"y2":{"field":"y2"}}},
{"data":{"name":"l1"},"mark":{"type":"line","color":"black","strokeWidth":4.5,"interpolate":"monotone"}},
{"data":{"values":[{"x":-0.0059,"y":1.2416,"t":"Likelihoods"}]},"mark":{"type":"text","font":"DejaVu Sans","fontSize":26,"align":"left","baseline":"alphabetic","color":"black"},"encoding":{"text":{"field":"t"}}},
{"data":{"values":[{"x":0.0284,"y":0.7013,"t":"p(m₂|x)"}]},"mark":{"type":"text","font":"DejaVu Serif","fontStyle":"italic","fontSize":26,"align":"left","baseline":"alphabetic","color":"black"},"encoding":{"text":{"field":"t"}}},
{"data":{"values":[{"x":-0.0269,"y":0.5,"t":"Likelihood"}]},"mark":{"type":"text","font":"DejaVu Sans","fontSize":19.5,"angle":270,"align":"center","baseline":"alphabetic","color":"black"},"encoding":{"text":{"field":"t"}}},
{"data":{"values":[{"x":0.5,"y":-0.2215,"t":"Stimulus (x)"}]},"mark":{"type":"text","font":"DejaVu Sans","fontSize":19.5,"align":"center","baseline":"alphabetic","color":"black"},"encoding":{"text":{"field":"t"}}}
]},
{"encoding":{"x":{"field":"x","type":"quantitative","scale":{"domain":[0,1],"range":[722.3,993.3],"nice":false},"axis":null},"y":{"field":"y","type":"quantitative","scale":{"domain":[0,1],"range":[571.7,480],"nice":false},"axis":null}},
"layer":[
{"data":{"name":"spines"},"mark":{"type":"rule","color":"#808080","strokeWidth":1.5},"encoding":{"x2":{"field":"x2"},"y2":{"field":"y2"}}},
{"data":{"name":"l2"},"mark":{"type":"line","color":"black","strokeWidth":4.5,"interpolate":"monotone"}},
{"data":{"values":[{"x":0.631,"y":0.6914,"t":"p(m₁|x)"}]},"mark":{"type":"text","font":"DejaVu Serif","fontStyle":"italic","fontSize":26,"align":"left","baseline":"alphabetic","color":"black"},"encoding":{"text":{"field":"t"}}},
{"data":{"values":[{"x":-0.0269,"y":0.5,"t":"Likelihood"}]},"mark":{"type":"text","font":"DejaVu Sans","fontSize":19.5,"angle":270,"align":"center","baseline":"alphabetic","color":"black"},"encoding":{"text":{"field":"t"}}},
{"data":{"values":[{"x":0.5,"y":-0.1996,"t":"Stimulus (x)"}]},"mark":{"type":"text","font":"DejaVu Sans","fontSize":19.5,"align":"center","baseline":"alphabetic","color":"black"},"encoding":{"text":{"field":"t"}}}
]},
{"encoding":{"x":{"field":"x","type":"quantitative","scale":{"domain":[0,1],"range":[722.3,993.3],"nice":false},"axis":null},"y":{"field":"y","type":"quantitative","scale":{"domain":[0,1],"range":[766.7,678.3],"nice":false},"axis":null}},
"layer":[
{"data":{"name":"spines"},"mark":{"type":"rule","color":"#808080","strokeWidth":1.5},"encoding":{"x2":{"field":"x2"},"y2":{"field":"y2"}}},
{"data":{"name":"p1"},"mark":{"type":"line","color":"#5555ff","strokeWidth":4.5,"interpolate":"monotone"}},
{"data":{"values":[{"x":-0.0059,"y":1.2376,"t":"Posteriors"}]},"mark":{"type":"text","font":"DejaVu Sans","fontSize":26,"align":"left","baseline":"alphabetic","color":"#5555ff"},"encoding":{"text":{"field":"t"}}},
{"data":{"values":[{"x":0.0284,"y":0.7093,"t":"p(x|m₂)"}]},"mark":{"type":"text","font":"DejaVu Serif","fontStyle":"italic","fontSize":26,"align":"left","baseline":"alphabetic","color":"black"},"encoding":{"text":{"field":"t"}}},
{"data":{"values":[{"x":-0.0399,"y":0.5,"t":"Probability"}]},"mark":{"type":"text","font":"DejaVu Sans","fontSize":19.5,"angle":270,"align":"center","baseline":"alphabetic","color":"black"},"encoding":{"text":{"field":"t"}}},
{"data":{"values":[{"x":0.5,"y":-0.224,"t":"Stimulus (x)"}]},"mark":{"type":"text","font":"DejaVu Sans","fontSize":19.5,"align":"center","baseline":"alphabetic","color":"black"},"encoding":{"text":{"field":"t"}}}
]},
{"encoding":{"x":{"field":"x","type":"quantitative","scale":{"domain":[0,1],"range":[722.3,993.3],"nice":false},"axis":null},"y":{"field":"y","type":"quantitative","scale":{"domain":[0,1],"range":[922.7,831.7],"nice":false},"axis":null}},
"layer":[
{"data":{"name":"spines"},"mark":{"type":"rule","color":"#808080","strokeWidth":1.5},"encoding":{"x2":{"field":"x2"},"y2":{"field":"y2"}}},
{"data":{"name":"p2"},"mark":{"type":"line","color":"#5555ff","strokeWidth":4.5,"interpolate":"monotone"}},
{"data":{"values":[{"x":0.631,"y":0.7077,"t":"p(x|m₁)"}]},"mark":{"type":"text","font":"DejaVu Serif","fontStyle":"italic","fontSize":26,"align":"left","baseline":"alphabetic","color":"black"},"encoding":{"text":{"field":"t"}}},
{"data":{"values":[{"x":-0.0399,"y":0.5,"t":"Probability"}]},"mark":{"type":"text","font":"DejaVu Sans","fontSize":19.5,"angle":270,"align":"center","baseline":"alphabetic","color":"black"},"encoding":{"text":{"field":"t"}}},
{"data":{"values":[{"x":0.5,"y":-0.2066,"t":"Stimulus (x)"}]},"mark":{"type":"text","font":"DejaVu Sans","fontSize":19.5,"align":"center","baseline":"alphabetic","color":"black"},"encoding":{"text":{"field":"t"}}}
]}
]
}
